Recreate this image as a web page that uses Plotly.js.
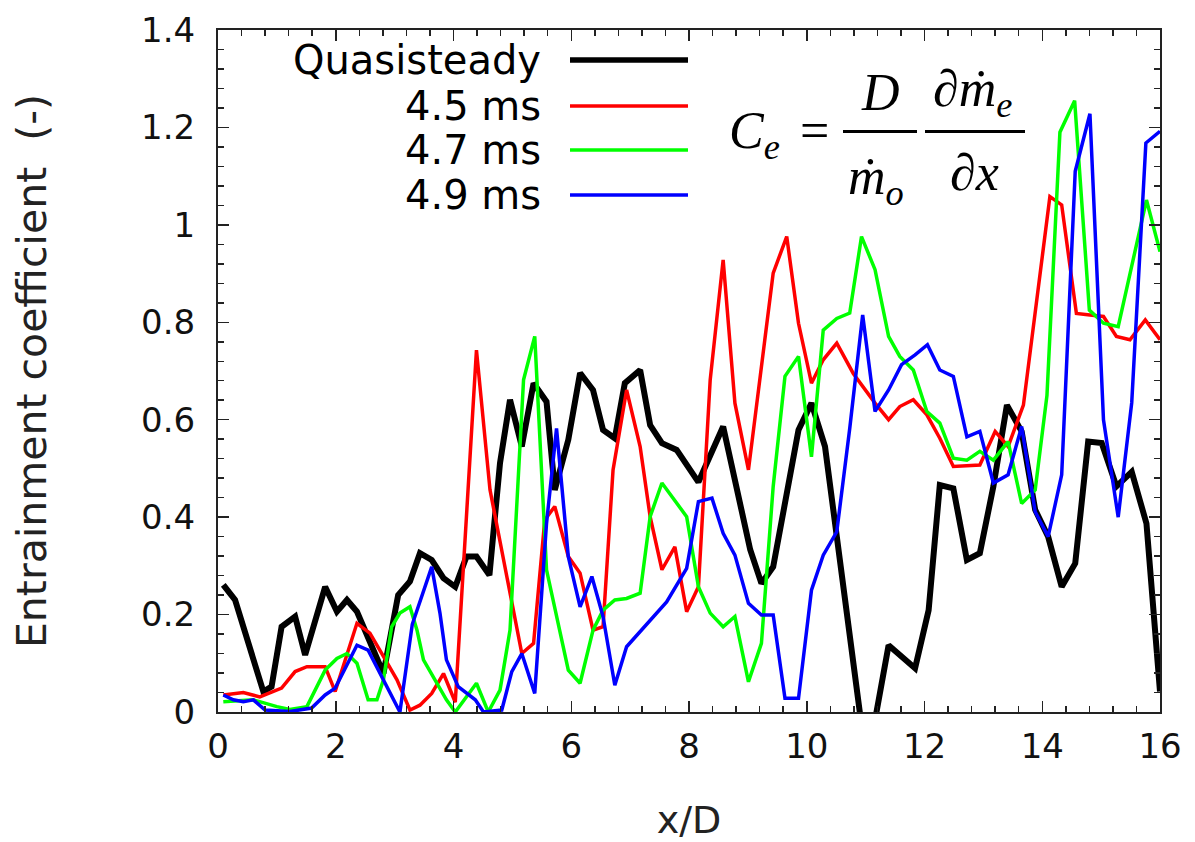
<!DOCTYPE html>
<html>
<head>
<meta charset="utf-8">
<script src="https://cdn.plot.ly/plotly-3.0.1.min.js"></script>
<style>html,body{margin:0;padding:0;background:#fff;}#chart{width:1195px;height:842px;}</style>
</head>
<body>
<div id="chart"></div>
<script>
// ---- data ----
const seriesNames = ['Quasisteady', '4.5 ms', '4.7 ms', '4.9 ms'];

const xQuasi = [0.09,0.29,0.77,0.91,1.08,1.31,1.48,1.82,2.02,2.19,2.36,2.81,3.06,3.26,3.43,3.63,3.83,4.03,4.22,4.39,4.61,4.79,4.96,5.16,5.36,5.58,5.72,5.95,6.15,6.37,6.54,6.74,6.91,7.17,7.34,7.54,7.79,8.16,8.58,9.04,9.23,9.43,9.86,10.08,10.31,11.02,11.39,11.84,12.07,12.26,12.49,12.72,12.94,13.17,13.40,13.65,13.88,14.10,14.33,14.56,14.78,15.01,15.26,15.52,15.77,16.00];
const yQuasi = [0.261,0.230,0.042,0.052,0.175,0.196,0.117,0.257,0.206,0.230,0.206,0.079,0.240,0.268,0.326,0.312,0.275,0.257,0.319,0.319,0.281,0.511,0.641,0.545,0.675,0.637,0.456,0.559,0.696,0.661,0.579,0.562,0.675,0.702,0.589,0.552,0.538,0.472,0.586,0.333,0.264,0.298,0.579,0.634,0.545,-0.11,0.137,0.090,0.209,0.466,0.459,0.312,0.326,0.463,0.630,0.576,0.415,0.360,0.257,0.305,0.555,0.552,0.463,0.493,0.387,0.042];

const x45 = [0.09,0.43,0.71,1.08,1.31,1.51,1.82,1.99,2.36,2.58,2.81,3.04,3.26,3.43,3.63,3.83,4.03,4.39,4.62,5.16,5.36,5.55,5.72,5.95,6.15,6.37,6.54,6.71,6.94,7.17,7.34,7.54,7.76,7.96,8.16,8.36,8.58,8.78,9.01,9.23,9.43,9.66,9.86,10.08,10.28,10.51,10.79,11.16,11.39,11.58,11.81,12.04,12.26,12.49,12.94,13.20,13.42,13.68,14.13,14.33,14.58,14.81,15.04,15.26,15.49,15.75,16.00];
const y45 = [0.035,0.040,0.031,0.049,0.083,0.093,0.093,0.042,0.182,0.162,0.114,0.066,0.004,0.014,0.038,0.079,0.020,0.743,0.456,0.120,0.141,0.394,0.422,0.319,0.285,0.168,0.175,0.497,0.661,0.545,0.401,0.292,0.339,0.206,0.257,0.682,0.928,0.634,0.497,0.716,0.901,0.976,0.798,0.675,0.723,0.757,0.695,0.634,0.600,0.627,0.641,0.610,0.562,0.504,0.507,0.576,0.545,0.630,1.058,1.041,0.818,0.815,0.812,0.771,0.764,0.805,0.764];

const x47 = [0.09,0.60,1.00,1.22,1.51,1.82,2.02,2.19,2.36,2.55,2.70,2.81,2.95,3.09,3.26,3.38,3.49,3.71,3.88,4.03,4.39,4.59,4.79,4.96,5.19,5.38,5.58,5.95,6.15,6.37,6.54,6.74,6.94,7.17,7.34,7.54,7.73,7.96,8.16,8.36,8.58,8.78,9.01,9.23,9.43,9.63,9.86,10.08,10.28,10.51,10.73,10.93,11.16,11.39,11.58,11.81,12.04,12.26,12.49,12.72,12.94,13.17,13.42,13.65,13.88,14.08,14.30,14.55,14.80,15.04,15.29,15.77,16.00];
const y47 = [0.021,0.025,0.011,0.005,0.011,0.086,0.110,0.120,0.100,0.025,0.025,0.066,0.175,0.203,0.216,0.168,0.107,0.059,0.025,0.0,0.059,0.0,0.045,0.168,0.682,0.771,0.292,0.086,0.059,0.168,0.209,0.230,0.233,0.244,0.401,0.470,0.439,0.401,0.257,0.203,0.175,0.196,0.062,0.141,0.463,0.689,0.730,0.524,0.784,0.808,0.819,0.976,0.908,0.771,0.730,0.702,0.617,0.593,0.521,0.517,0.535,0.517,0.555,0.428,0.456,0.650,1.190,1.255,0.825,0.798,0.791,1.051,0.945];

const x49 = [0.09,0.26,0.43,0.60,0.80,1.22,1.59,1.82,1.99,2.36,2.55,3.09,3.30,3.63,3.77,3.88,4.08,4.37,4.51,4.82,4.99,5.16,5.38,5.58,5.75,5.95,6.15,6.35,6.54,6.74,6.94,7.17,7.39,7.62,7.96,8.16,8.39,8.58,8.78,9.01,9.23,9.43,9.63,9.86,10.08,10.28,10.51,10.73,10.95,11.16,11.39,11.61,11.84,12.05,12.26,12.49,12.72,12.94,13.17,13.42,13.65,13.88,14.10,14.33,14.56,14.81,15.04,15.29,15.52,15.76,16.00];
const y49 = [0.035,0.025,0.021,0.025,0.004,0.001,0.008,0.035,0.049,0.137,0.127,0.0,0.18,0.298,0.203,0.107,0.052,0.025,0.0,0.004,0.083,0.120,0.038,0.387,0.582,0.319,0.216,0.278,0.196,0.055,0.134,0.165,0.196,0.226,0.295,0.432,0.439,0.367,0.322,0.223,0.199,0.199,0.028,0.028,0.250,0.322,0.370,0.582,0.815,0.617,0.661,0.713,0.733,0.754,0.702,0.689,0.565,0.576,0.470,0.487,0.586,0.411,0.360,0.487,1.110,1.228,0.600,0.400,0.635,1.168,1.192];

const xTitle = 'x/D';
const yTitle = 'Entrainment coefficient \u00a0(-)';

// ---- styling ----
const colors = ['#000000', '#ff0000', '#00ff00', '#0000ff'];
const widths = [6, 3.5, 3.5, 3.5];
const xs = [xQuasi, x45, x47, x49];
const ys = [yQuasi, y45, y47, y49];

const traces = seriesNames.map((n, i) => ({
  type: 'scatter', mode: 'lines', name: n,
  x: xs[i], y: ys[i],
  line: {color: colors[i], width: widths[i]},
  showlegend: false, hoverinfo: 'skip'
}));

// plot frame in pixels (for placing legend/formula in paper coords)
const L = 218, R = 1160, T = 30, B = 712;
const px = p => (p - L) / (R - L);
const py = p => (B - p) / (B - T);

const sans = 'DejaVu Sans, Liberation Sans, Arial, sans-serif';
const serif = 'Liberation Serif, DejaVu Serif, Times New Roman, serif';

const annotations = [];
const shapes = [];
const legendRows = [60, 106, 150, 195];
seriesNames.forEach((n, i) => {
  annotations.push({
    xref: 'paper', yref: 'paper', x: px(543), y: py(legendRows[i]),
    xanchor: 'right', yanchor: 'middle', showarrow: false,
    text: n, font: {family: sans, size: 40, color: '#000'}
  });
  shapes.push({
    type: 'line', xref: 'paper', yref: 'paper',
    x0: px(570), x1: px(688), y0: py(legendRows[i]), y1: py(legendRows[i]),
    line: {color: colors[i], width: i === 0 ? 5.5 : 3.5}
  });
});

// formula  C_e = (D / m_o) (dm_e / dx)
const fF = {family: serif, size: 52, color: '#000'};
const ann = (text, x, y, xa) => annotations.push({
  xref: 'paper', yref: 'paper', x: px(x), y: py(y), xanchor: xa || 'center',
  yanchor: 'middle', showarrow: false, text: text, font: fF
});
ann('<i>C</i><sub><i>e</i></sub>', 727, 134, 'left');
ann('=', 814, 130);
ann('<i>D</i>', 880, 92);
ann('<i>\u1e41</i><sub><i>o</i></sub>', 876, 180);
ann('\u2202<i>\u1e41</i><sub><i>e</i></sub>', 972, 92);
ann('\u2202<i>x</i>', 974, 172);
[[843, 917], [925, 1025]].forEach(([a, b]) => shapes.push({
  type: 'line', xref: 'paper', yref: 'paper', x0: px(a), x1: px(b),
  y0: py(131.5), y1: py(131.5), line: {color: '#000', width: 3}
}));

const axisCommon = {
  showgrid: false, zeroline: false, showline: true, linecolor: '#222', linewidth: 2,
  mirror: 'allticks', ticks: 'inside', ticklen: 11, tickwidth: 1.5, tickcolor: '#222',
  tickfont: {family: sans, size: 34, color: '#111'}
};

const layout = {
  width: 1195, height: 842,
  margin: {l: L, r: 1195 - R, t: T, b: 842 - B, pad: 0},
  paper_bgcolor: '#fff', plot_bgcolor: '#fff',
  showlegend: false,
  xaxis: Object.assign({}, axisCommon, {
    range: [0, 16], tick0: 0, dtick: 2, ticklabelstandoff: 3,
    minor: {dtick: 0.4, tick0: 0, ticks: 'inside', ticklen: 6, tickwidth: 1.5, tickcolor: '#222'},
    title: {text: xTitle, font: {family: sans, size: 38, color: '#222'}, standoff: 48}
  }),
  yaxis: Object.assign({}, axisCommon, {
    range: [0, 1.4], tick0: 0, dtick: 0.2, ticklabelstandoff: 14,
    minor: {dtick: 0.04, tick0: 0, ticks: 'inside', ticklen: 6, tickwidth: 1.5, tickcolor: '#222'},
    title: {text: yTitle, font: {family: sans, size: 41, color: '#222'}, standoff: 82}
  }),
  annotations: annotations,
  shapes: shapes
};

Plotly.newPlot('chart', traces, layout, {displayModeBar: false, staticPlot: true});
</script>
</body>
</html>
